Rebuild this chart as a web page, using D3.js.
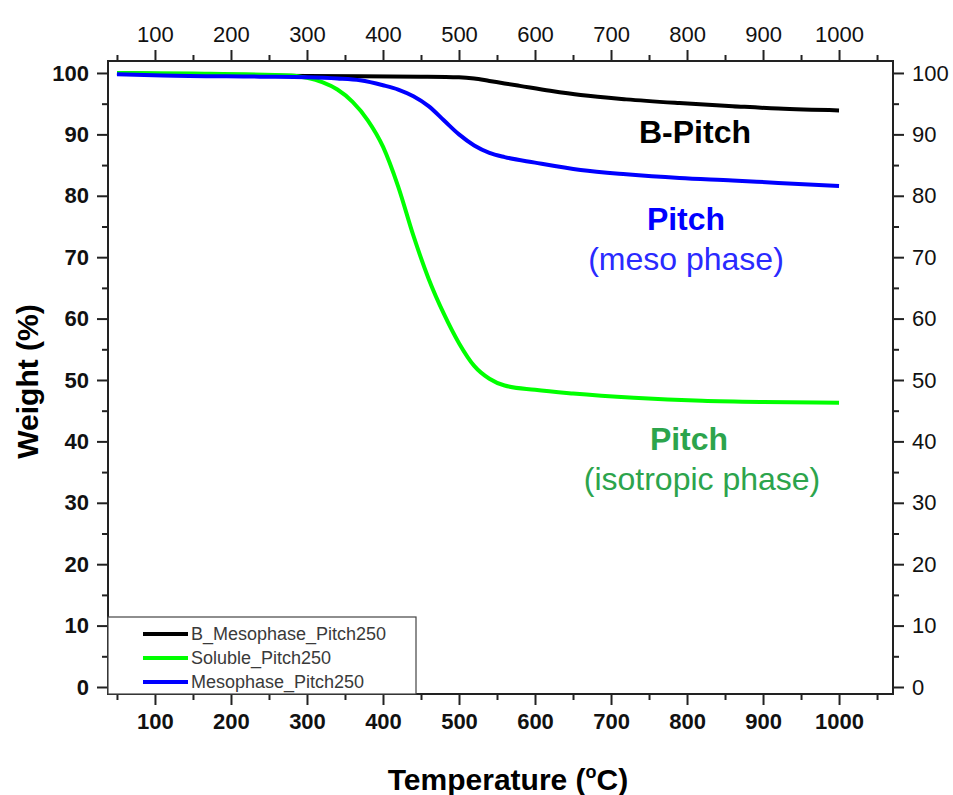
<!DOCTYPE html>
<html lang="en">
<head>
  <meta charset="UTF-8">
  <script src="https://d3js.org/d3.v7.min.js"></script>
  <title>TGA Pitch</title>
  <style>
    body { margin: 0; background: #fff; font-family: "Liberation Sans", Arial, sans-serif; }
    .tick text { font-family: "Liberation Sans", Arial, sans-serif; }
  </style>
</head>
<body>
<script>
  // series data (temperature in °C, weight in %)
  const bTemp   = [50, 150, 300, 450, 500, 520, 540, 560, 580, 620, 660, 720, 790, 860, 920, 1000];
  const bWeight = [100, 99.7, 99.5, 99.4, 99.3, 99.1, 98.7, 98.3, 97.9, 97.1, 96.4, 95.7, 95.1, 94.6, 94.2, 93.9];

  const sTemp   = [50, 150, 280, 300, 320, 340, 360, 380, 400, 420, 440, 460, 480, 500, 520, 540, 560, 600, 650, 730, 820, 900, 1000];
  const sWeight = [100, 99.9, 99.6, 99.2, 98.5, 97.3, 95.3, 92.3, 88.0, 81.5, 73.5, 66.5, 60.8, 56.0, 52.3, 50.2, 49.1, 48.4, 47.8, 47.1, 46.6, 46.4, 46.3];

  const mTemp   = [50, 110, 238, 300, 340, 370, 400, 420, 440, 460, 480, 500, 520, 540, 560, 600, 660, 720, 790, 860, 920, 1000];
  const mWeight = [99.8, 99.6, 99.4, 99.3, 99.1, 98.8, 98.0, 97.3, 96.2, 94.6, 92.3, 90.0, 88.2, 87.0, 86.3, 85.4, 84.2, 83.5, 82.9, 82.5, 82.1, 81.6];

  const seriesNames  = ["B_Mesophase_Pitch250", "Soluble_Pitch250", "Mesophase_Pitch250"];
  const seriesColors = ["#000000", "#00ff00", "#0000ff"];

  const xMajor = [100, 200, 300, 400, 500, 600, 700, 800, 900, 1000];
  const xMinor = [50, 150, 250, 350, 450, 550, 650, 750, 850, 950, 1050];
  const yMajor = [0, 10, 20, 30, 40, 50, 60, 70, 80, 90, 100];
  const yMinor = [5, 15, 25, 35, 45, 55, 65, 75, 85, 95];

  const W = 953, H = 795;
  const m = { left: 108, right: 893, top: 61, bottom: 694 };

  const svg = d3.select("body").append("svg")
    .attr("width", W).attr("height", H);

  const x = d3.scaleLinear().domain([38.2, 1071]).range([m.left, m.right]);
  const y = d3.scaleLinear().domain([-1.14, 101.95]).range([m.bottom, m.top]);

  // lines (black first, blue on top)
  const series = [
    { t: bTemp, w: bWeight },
    { t: sTemp, w: sWeight },
    { t: mTemp, w: mWeight }
  ];
  const line = d3.line().x(d => x(d[0])).y(d => y(d[1])).curve(d3.curveMonotoneX);
  const lines = svg.append("g");
  series.forEach((s, i) => {
    lines.append("path")
      .attr("d", line(s.t.map((t, j) => [t, s.w[j]])))
      .attr("fill", "none")
      .attr("stroke", seriesColors[i])
      .attr("stroke-width", 4)
      .attr("stroke-linejoin", "round");
  });

  // axes
  function styleAxis(g, bold) {
    g.select(".domain").remove();
    g.selectAll(".tick line").attr("stroke", "#222").attr("stroke-width", 2);
    g.selectAll(".tick text")
      .attr("fill", "#111")
      .style("font-size", "22px")
      .style("font-weight", bold ? "bold" : "normal");
  }

  const axes = [
    { axis: d3.axisBottom(x), minor: d3.axisBottom(x), tr: `translate(0,${m.bottom})`, vals: xMajor, mv: xMinor, bold: true },
    { axis: d3.axisTop(x), minor: d3.axisTop(x), tr: `translate(0,${m.top})`, vals: xMajor, mv: xMinor, bold: false },
    { axis: d3.axisLeft(y), minor: d3.axisLeft(y), tr: `translate(${m.left},0)`, vals: yMajor, mv: yMinor, bold: true },
    { axis: d3.axisRight(y), minor: d3.axisRight(y), tr: `translate(${m.right},0)`, vals: yMajor, mv: yMinor, bold: false }
  ];
  axes.forEach(a => {
    svg.append("g").attr("transform", a.tr)
      .call(a.minor.tickValues(a.mv).tickSize(6).tickFormat(""))
      .call(g => styleAxis(g, false));
    svg.append("g").attr("transform", a.tr)
      .call(a.axis.tickValues(a.vals).tickSize(11).tickPadding(8).tickFormat(d3.format("d")))
      .call(g => styleAxis(g, a.bold));
  });

  // frame
  svg.append("rect")
    .attr("x", m.left).attr("y", m.top)
    .attr("width", m.right - m.left).attr("height", m.bottom - m.top)
    .attr("fill", "none").attr("stroke", "#222").attr("stroke-width", 2);

  // axis titles
  svg.append("text")
    .attr("transform", `translate(38,${(m.top + m.bottom) / 2 + 4}) rotate(-90)`)
    .attr("text-anchor", "middle")
    .style("font-size", "30px").style("font-weight", "bold")
    .text("Weight (%)");

  const xt = svg.append("text")
    .attr("x", 508).attr("y", 790)
    .attr("text-anchor", "middle")
    .style("font-size", "30px").style("font-weight", "bold");
  xt.append("tspan").text("Temperature (");
  xt.append("tspan").attr("dy", -12).style("font-size", "18px").text("o");
  xt.append("tspan").attr("dy", 12).text("C)");

  // annotations
  const notes = [
    { text: "B-Pitch", cx: 695, by: 143, color: "#000", bold: true },
    { text: "Pitch", cx: 686, by: 230, color: "#0000ff", bold: true },
    { text: "(meso phase)", cx: 686, by: 270, color: "#2a2aff", bold: false },
    { text: "Pitch", cx: 689, by: 450, color: "#2ca44c", bold: true },
    { text: "(isotropic phase)", cx: 702, by: 490, color: "#2ca44c", bold: false }
  ];
  svg.append("g").selectAll("text").data(notes).join("text")
    .attr("x", d => d.cx).attr("y", d => d.by)
    .attr("text-anchor", "middle")
    .attr("fill", d => d.color)
    .style("font-size", "32px")
    .style("font-weight", d => d.bold ? "bold" : "normal")
    .text(d => d.text);

  // legend
  const lg = svg.append("g");
  lg.append("rect")
    .attr("x", m.left).attr("y", 617)
    .attr("width", 416 - m.left).attr("height", m.bottom - 617)
    .attr("fill", "#fff").attr("stroke", "#444").attr("stroke-width", 1.2);
  const rows = lg.selectAll("g").data(seriesNames).join("g")
    .attr("transform", (d, i) => `translate(0,${634 + i * 24})`);
  rows.append("line")
    .attr("x1", 143).attr("x2", 188)
    .attr("stroke", (d, i) => seriesColors[i]).attr("stroke-width", 4);
  rows.append("text")
    .attr("x", 191).attr("y", 6)
    .attr("fill", "#3a3a3a")
    .style("font-size", "18px")
    .text(d => d);
</script>
</body>
</html>
